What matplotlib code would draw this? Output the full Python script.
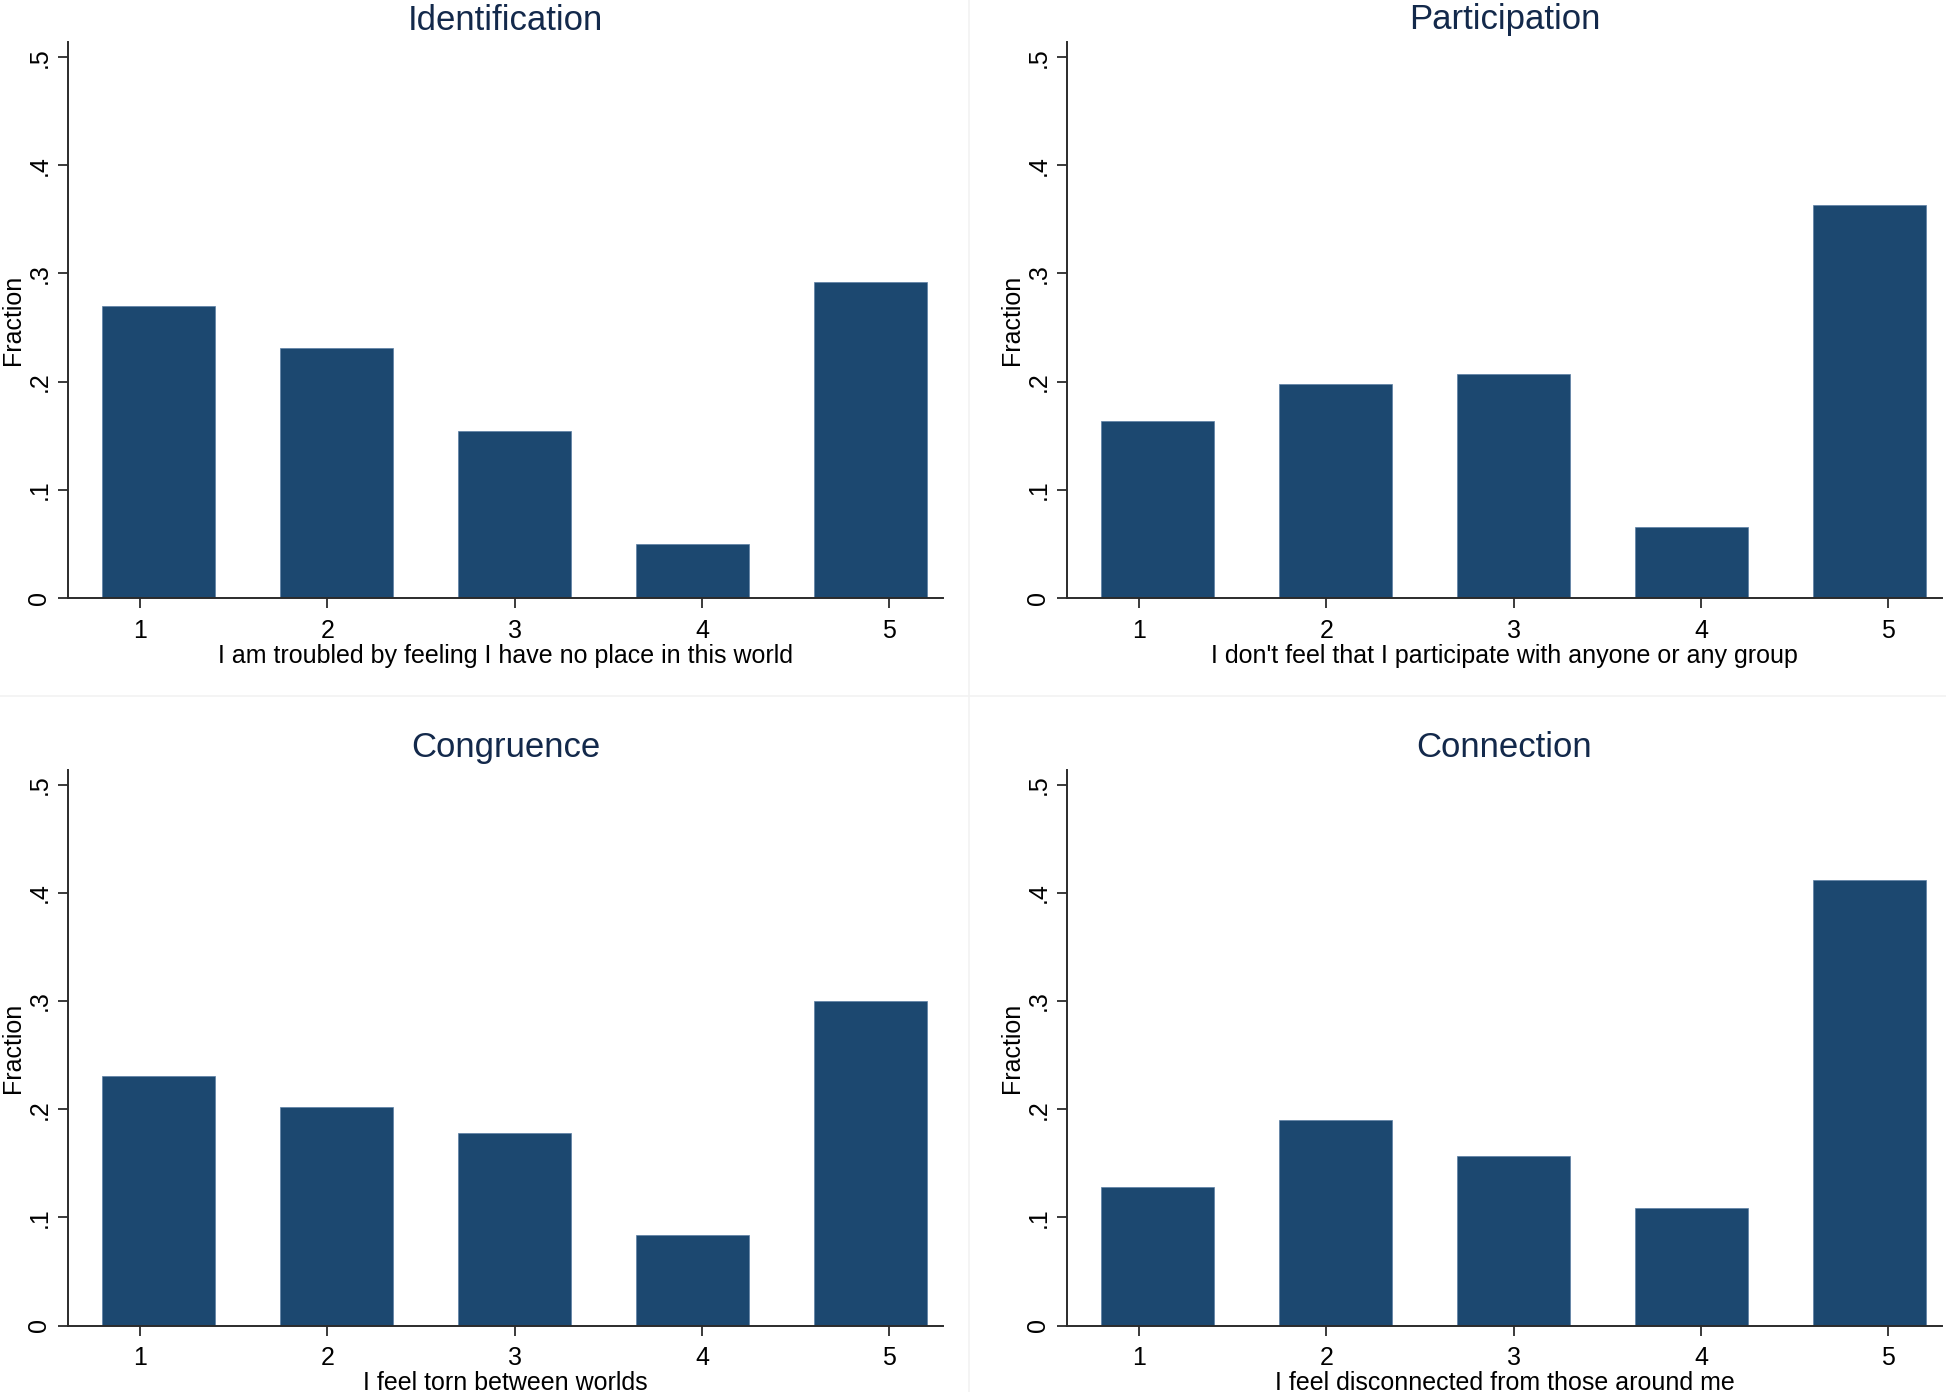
import numpy as np
import matplotlib
matplotlib.use("Agg")
import matplotlib.pyplot as plt
from matplotlib.lines import Line2D

plt.rcParams["font.family"] = ["Liberation Sans", "DejaVu Sans"]

# response categories (1..5)
cats = np.array([1, 2, 3, 4, 5])

# fractions
identification = [0.270, 0.231, 0.154, 0.050, 0.292]
participation = [0.164, 0.198, 0.207, 0.066, 0.363]
congruence = [0.231, 0.202, 0.178, 0.084, 0.300]
connection = [0.128, 0.190, 0.157, 0.109, 0.412]

titles = ["Identification", "Participation", "Congruence", "Connection"]
xlabels = ["I am troubled by feeling I have no place in this world",
           "I don't feel that I participate with anyone or any group",
           "I feel torn between worlds",
           "I feel disconnected from those around me"]
yticks = [0, 0.1, 0.2, 0.3, 0.4, 0.5]
ytick_labels = ["0", ".1", ".2", ".3", ".4", ".5"]

W, H = 1946, 1392
bar_color = "#1c4870"
title_color = "#13294b"
axis_color = "#2b2b2b"

fig = plt.figure(figsize=(W / 100, H / 100), dpi=100)
fig.patch.set_facecolor("white")

# axes boxes in pixels: left, top
boxes = [(68, 42), (1067, 42), (68, 769.5), (1067, 769.5)]
aw, ah = 875, 556

data = [identification, participation, congruence, connection]

for (lx, ty), vals, ttl, xl in zip(boxes, data, titles, xlabels):
    ax = fig.add_axes([lx / W, 1 - (ty + ah) / H, aw / W, ah / H])
    # stata-like bin placement: bars slightly compressed towards the middle
    xpos = 3 + (cats - 3) * 0.95
    ax.bar(xpos, vals, width=0.6, color=bar_color, edgecolor="#5b7fa3",
           linewidth=0.5, zorder=2)
    ax.set_xlim(0.616, 5.287)
    ax.set_ylim(0, 0.514)
    ax.set_xticks(cats)
    ax.set_xticklabels([str(c) for c in cats])
    ax.set_yticks(yticks)
    ax.set_yticklabels(ytick_labels)
    for s in ["top", "right"]:
        ax.spines[s].set_visible(False)
    for s in ["left", "bottom"]:
        ax.spines[s].set_color(axis_color)
        ax.spines[s].set_linewidth(1.4)
    ax.tick_params(axis="both", direction="out", length=7, width=1.3,
                   color=axis_color, labelsize=18, labelcolor="black")
    ax.tick_params(axis="x", pad=8)
    ax.tick_params(axis="y", pad=5, labelrotation=90)
    for lab in ax.get_yticklabels():
        lab.set_va("center")
    ax.set_xlabel(xl, fontsize=18, labelpad=0.5)
    ax.set_ylabel("Fraction", fontsize=18, labelpad=2)
    ax.set_title(ttl, fontsize=25, color=title_color, pad=9)

# faint separators between the combined graphs
fig.add_artist(Line2D([969 / W, 969 / W], [0, 1], color="#f2f2f2", lw=1.2))
fig.add_artist(Line2D([0, 1], [1 - 696 / H, 1 - 696 / H], color="#f2f2f2", lw=1.2))

fig.savefig("out.png", dpi=100)
